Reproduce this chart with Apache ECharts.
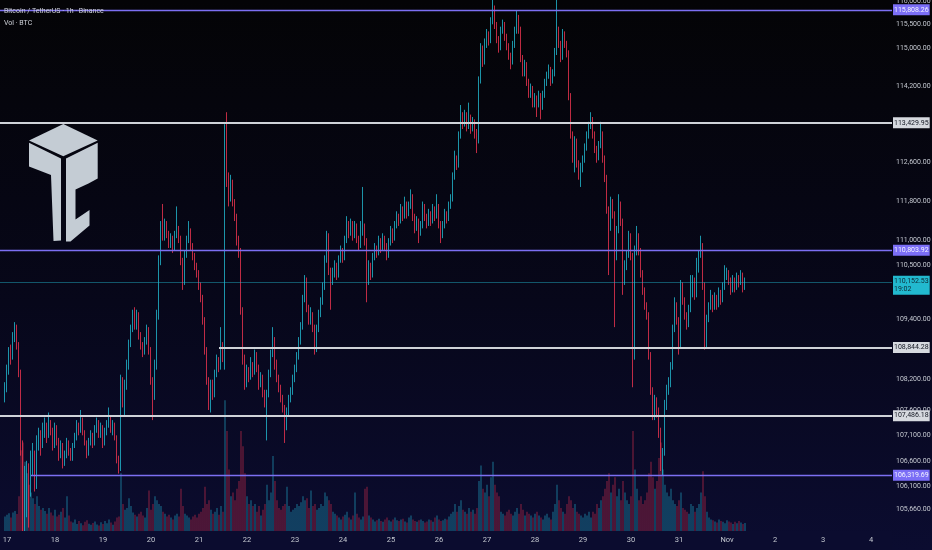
<!DOCTYPE html>
<html><head><meta charset="utf-8">
<script src="https://cdn.jsdelivr.net/npm/echarts@6/dist/echarts.min.js"></script>
<style>
html,body{margin:0;padding:0;background:#050507;}
#c{width:932px;height:550px;background:linear-gradient(180deg,#040406 0%,#07071a 55%,#0b0c30 100%);}
</style>
</head><body><div id="c"></div>
<script>
// ---- data (hourly BTC/USDT) ----
const firstOpen = 107850;
const closes = [
108050,108400,108750,108650,109050,109200,108900,108350,106900,105600,
105900,106400,106100,106550,106750,106500,106950,107150,106900,107200,
107300,107100,107350,107200,106900,107250,107000,106750,106900,106550,
106700,106950,106800,106650,106900,107050,107300,107200,107400,107150,
106950,106750,106950,107100,106950,107200,107350,107100,107250,106950,
107150,107300,107450,107200,107300,107050,106650,106500,108100,107750,
108100,108500,108900,109200,109450,109300,109500,109100,108900,108750,
108950,109200,108800,108200,107900,108500,109500,110600,111300,111100,
111350,111150,110950,111050,110850,111100,111250,111050,110600,110200,
110700,111000,111200,110900,110700,110500,110350,110100,109850,109400,
108800,108200,107800,108100,107900,108300,108600,108450,108900,108650,
113300,112300,111900,112200,111800,111500,111000,110800,109600,108600,
108150,108400,108250,108500,108350,108700,108450,108100,108250,107950,
107750,107900,108300,108700,109000,108500,108250,108050,107850,107650,
107400,107550,107800,107950,108200,108400,108650,108950,109250,109800,
110200,109650,109400,109500,109250,108800,109200,109500,109750,110050,
110600,111100,110400,110200,110350,110500,110300,110600,110800,110650,
111000,111350,111150,111350,111100,111300,111050,110900,111150,111300,
111000,110200,110500,110300,110650,110850,110750,111000,110850,111050,
110900,110700,110950,111200,111050,111300,111500,111400,111650,111500,
111750,111550,111700,111900,111500,111250,111400,111150,111300,111700,
111500,111350,111550,111400,111650,111500,111700,111350,111100,111300,
111550,111450,111700,111850,112300,112700,112550,113150,113550,113400,
113600,113350,113550,113300,113450,113200,113050,114300,115000,114700,
115100,115300,115150,115550,115850,115500,115200,115000,115350,115500,
115250,115050,114850,114700,115050,115350,115650,115400,114800,114500,
114650,114300,114050,114150,113850,113950,113800,114000,113750,114000,
114250,114400,114550,114300,114450,114900,115400,115100,114800,115300,
115100,114900,114000,113200,112700,113050,112600,112350,112500,112650,
112900,113150,113350,113500,113200,112900,112700,112950,113200,112700,
112300,111650,111250,111800,111550,110700,111200,111750,111400,110200,
110500,110700,111100,110700,108700,110800,111100,110800,110350,110000,
109700,109500,108700,108000,107500,107800,107600,107200,106600,106750,
107700,108000,108100,108450,109200,109700,109400,108900,110100,109800,
109500,109300,109600,109900,110200,109900,110400,110700,110900,110100,
108900,109400,109650,109850,109650,109850,109700,109950,109800,110050,
110300,110350,110200,110000,110200,110050,110250,110150,110300,110050,
110152.53];
const highs = [
108150,108500,108850,108900,109150,109350,109300,108950,108400,107000,
106500,106600,106550,106800,106950,106800,107100,107250,107200,107350,
107450,107350,107550,107400,107250,107350,107300,107050,107000,106950,
106800,107050,107000,106850,106950,107150,107400,107350,107600,107450,
107200,107000,107050,107200,107150,107300,107450,107400,107350,107300,
107250,107400,107650,107500,107400,107350,107100,106700,108300,108250,
108200,108600,109000,109300,109600,109650,109600,109550,109150,108950,
109050,109300,109250,108850,108250,108600,109600,110700,111400,111750,
111450,111400,111200,111150,111100,111200,111700,111300,111100,110650,
110800,111100,111400,111250,110950,110750,110550,110400,110150,109900,
109450,108850,108250,108200,108200,108400,108700,108650,109250,108950,
113400,113650,112400,112350,112250,111850,111550,111100,110850,109650,
108700,108500,108450,108650,108550,108800,108750,108500,108350,108300,
108000,108000,108400,108800,109250,109050,108600,108300,108100,107900,
107700,107650,107900,108050,108300,108500,108750,109050,109350,109900,
110300,110250,109700,109650,109550,109300,109300,109600,109850,110150,
110700,111200,111150,110450,110450,110600,110550,110700,110900,110850,
111100,111500,111400,111450,111400,111400,111350,111100,111400,112100,
111350,111050,110600,110550,110750,110950,110900,111100,111050,111150,
111100,110950,111050,111300,111250,111400,111600,111550,111750,111700,
111900,111800,111800,112050,111950,111550,111500,111450,111400,111800,
111750,111550,111650,111600,111750,111700,111950,111750,111400,111400,
111650,111600,111800,111950,112400,112850,112750,113250,113800,113650,
113700,113650,113850,113600,113550,113500,113300,114400,115100,115050,
115200,115400,115350,115650,116050,115900,115550,115250,115450,115600,
115550,115300,115100,114900,115150,115450,115800,115700,115450,114850,
114750,114700,114350,114250,114200,114050,114000,114100,114050,114100,
114350,114500,114650,114600,114550,115000,116100,115450,115150,115400,
115350,115150,114950,114050,113250,113150,113100,112650,112600,112750,
113000,113250,113450,113650,113550,113250,112950,113050,113450,113250,
112750,112350,111700,111900,111850,111600,111300,111950,111800,111450,
110600,110800,111200,111150,110750,110900,111300,111150,110850,110400,
110050,109750,109550,108750,108050,107900,107850,107650,107250,106850,
107800,108100,108250,108550,109300,109850,109750,109450,110200,110150,
109850,109550,109700,110300,110300,110250,110650,110800,111100,110950,
110150,109500,109750,110000,109900,109950,109900,110050,110000,110150,
110500,110450,110400,110250,110300,110250,110350,110300,110400,110350,
110250];
const lows = [
107750,107950,108300,108500,108600,108950,108800,108250,106700,104300,
104900,105500,105300,105900,106300,106000,106050,106800,106700,106850,
107050,106950,107050,107100,106800,106850,106900,106600,106650,106450,
106500,106650,106700,106600,106600,106850,107000,107100,107150,107100,
106900,106650,106700,106900,106850,106900,107150,107050,107050,106850,
106900,107100,107250,107150,107100,107000,106550,106350,106400,107650,
107500,108000,108400,108850,109150,109200,109200,109000,108800,108650,
108700,108900,108700,108100,107400,107800,108400,109400,110500,111000,
111000,111050,110850,110850,110750,110800,111050,110950,110500,110000,
110100,110650,110950,110800,110600,110400,110250,110000,109750,109300,
108700,108100,107600,107550,107800,107850,108250,108350,108400,108550,
108400,112100,111700,111800,111700,111400,110900,110650,109500,108500,
108000,108050,108150,108200,108250,108300,108350,108000,108050,107850,
107650,107000,107850,108250,108650,108400,108150,107950,107750,107550,
106950,107200,107500,107750,107900,108150,108350,108600,108900,109200,
109750,109550,109300,109300,109150,108700,108750,109150,109450,109700,
110000,110550,110300,109600,110100,110250,110200,110250,110550,110550,
110600,110950,111050,111100,111000,111050,110950,110800,110850,111100,
110900,109750,110100,110200,110250,110600,110650,110700,110750,110800,
110800,110600,110650,110900,110950,111000,111250,111300,111350,111400,
111450,111450,111500,111650,111400,111150,111200,110950,111100,111250,
111400,111250,111300,111300,111350,111400,111450,111250,110950,111050,
111250,111350,111400,111650,111800,112250,112450,112500,113100,113300,
113350,113250,113300,113200,113250,113100,112800,113000,114250,114600,
114650,115000,115050,115100,115500,115400,115100,114900,114950,115300,
115150,114950,114750,114550,114650,115000,115300,115300,114700,114400,
114400,114200,113950,113950,113750,113750,113550,113750,113500,113700,
113950,114200,114350,114200,114250,114400,114850,115000,114700,114750,
115000,114800,113900,113100,112600,112400,112500,112250,112100,112400,
112600,112850,113100,113300,113100,112800,112600,112650,112900,112600,
112200,111550,110300,111200,111450,109250,110600,111150,111300,109900,
110100,110400,110650,110600,108050,108600,110700,110700,110250,109900,
109600,109400,108600,107900,107400,107400,107450,107050,106400,106320,
106700,107600,107900,108050,108400,109150,109300,108700,108850,109700,
109400,109200,109250,109550,109850,109800,109850,110350,110650,110000,
108800,108850,109350,109600,109550,109600,109600,109650,109700,109750,
110000,110200,110100,109900,109950,109950,110000,110050,110100,109950,
110000];
const volumes = [
380,420,460,350,480,520,440,900,2100,2300,
1800,1500,1200,1000,850,700,900,650,550,600,
520,450,600,480,400,550,380,420,500,600,
350,900,400,250,220,300,180,260,200,150,
240,280,190,160,210,250,170,140,230,180,
260,200,300,220,160,250,350,380,1500,700,
550,600,850,650,480,420,380,450,500,400,
350,600,1050,550,700,900,800,700,650,500,
450,380,420,350,300,400,450,380,1100,650,
450,400,350,300,380,420,350,450,500,600,
1150,700,800,550,450,500,600,420,650,500,
3400,2600,1600,900,1000,800,1100,1300,2600,2200,
1500,900,700,800,650,700,500,650,400,550,
700,1200,800,1000,1950,1300,800,600,550,650,
700,1150,650,500,550,600,700,650,750,900,
800,850,600,1050,650,700,550,600,700,650,
1000,900,800,700,500,450,400,350,300,380,
420,500,350,300,400,1000,450,350,300,380,
1100,1150,400,350,300,250,280,320,260,240,
300,350,280,250,300,350,280,260,300,320,
250,220,350,400,300,260,240,280,300,260,
220,250,300,280,240,350,400,300,260,280,
320,300,380,450,500,700,500,650,800,550,
500,450,600,500,550,450,600,1300,1700,1100,
1000,1200,900,1400,1800,1200,1000,900,500,450,
400,500,550,450,400,500,600,450,700,550,
400,500,450,400,350,450,500,400,350,300,
400,450,350,300,500,700,1200,800,600,500,
450,700,900,800,600,700,500,450,400,350,
450,400,500,350,500,450,700,600,800,900,
1100,1300,1500,1000,1200,1400,900,1100,800,1300,
1000,800,700,900,2600,1600,1100,800,900,700,
800,1000,1500,1800,1400,1100,1300,1900,2300,1600,
1200,1000,900,1100,800,700,650,800,1000,600,
550,500,450,700,650,500,600,700,1000,1550,
900,500,350,300,280,250,220,300,260,240,
200,280,250,220,180,240,200,260,220,180,
208];
const dayTicks = ['17','18','19','20','21','22','23','24','25','26','27','28','29','30','31','Nov','2','3','4'];
const priceTicks = [116000,115500,115000,114200,112600,111800,111000,110500,109400,108200,107600,107100,106600,106100,105660];
const levelPrices = [115808.26,113429.95,110803.92,108844.28,107486.18,106319.69];
const levelKinds  = ['purple','grey','purple','grey','grey','purple'];
const levelStarts = [0,0,0,107,0,13];
const lastPrice = 110152.53;
const countdown = '19:02';
const lastVolume = 208;
const titleText = 'Bitcoin / TetherUS · 1h · Binance';
const volText = 'Vol · BTC';

// ---- chart ----
const N_SLOTS = 440;             // hourly slots, 2 px each
const GRID_LEFT = 4, GRID_W = 880;
const LINE_END_X = 892;          // price lines run up to the price scale
const startMs = Date.UTC(2025, 9, 16, 23);
const slots = [];
for (let i = 0; i < N_SLOTS; i++) {
  const d = new Date(startMs + i * 3600000);
  slots.push((d.getUTCMonth()+1) + '-' + d.getUTCDate() + ' ' + d.getUTCHours() + ':00');
}
const UP = '#22b9cf', DOWN = '#ef3550';
const FONT = 'Roboto,"Liberation Sans",sans-serif';
const fmt = v => Number(v).toLocaleString('en-US', {minimumFractionDigits: 2, maximumFractionDigits: 2});

const candles = closes.map((c, i) => {
  const o = i ? closes[i-1] : firstOpen;
  return [o, c, Math.min(lows[i], o, c), Math.max(highs[i], o, c)];
});
const volData = volumes.map((v, i) => ({
  value: v,
  itemStyle: {color: candles[i][1] >= candles[i][0] ? 'rgba(34,170,200,0.55)' : 'rgba(230,50,80,0.5)'}
}));

const styles = {
  purple: {line: '#7c6ff2', width: 1.3, bg: '#7b6ef6', text: '#f4f4ff'},
  grey:   {line: '#cfd2d8', width: 1.8, bg: '#d6d9df', text: '#131722'}
};
function lbl(text, st) {
  return {show: true, position: 'end', distance: 1, formatter: text, color: st.text,
          backgroundColor: st.bg, padding: [2, 1, 1, 1], fontSize: 7, fontFamily: FONT, lineHeight: 8};
}
function hline(p, startIdx, lineStyle, label) {
  return [{coord: [startIdx, p], x: startIdx ? undefined : 0, lineStyle, label},
          {coord: [N_SLOTS - 1, p], x: LINE_END_X}];
}
const lineData = levelPrices.map((p, k) => {
  const st = styles[levelKinds[k]];
  return hline(p, levelStarts[k], {color: st.line, width: st.width, type: 'solid'}, lbl(fmt(p), st));
});
lineData.push(hline(lastPrice, 0, {color: 'rgba(34,185,207,0.45)', width: 1, type: 'solid'},
  Object.assign(lbl(fmt(lastPrice) + '\n' + countdown, {bg: UP, text: '#0d2b35'}), {offset: [0, 3]})));

const chart = echarts.init(document.getElementById('c'), null, {renderer: 'canvas'});
chart.setOption({
  backgroundColor: 'transparent',
  animation: false,
  grid: {left: GRID_LEFT, width: GRID_W, top: 0, bottom: 19, containLabel: false, outerBoundsMode: 'none'},
  xAxis: {
    type: 'category', data: slots, boundaryGap: true, z: 60,
    axisLine: {show: false}, axisTick: {show: false}, splitLine: {show: false},
    axisLabel: {
      interval: i => i >= 1 && (i - 1) % 24 === 0,
      formatter: (v, i) => dayTicks[(i - 1) / 24] || '',
      color: '#c4c8d0', fontSize: 7.5, fontFamily: FONT, margin: 5
    }
  },
  yAxis: [{
    type: 'log', logBase: 10, position: 'right', min: 105234, max: 116017,
    axisLine: {show: false}, axisTick: {show: false}, splitLine: {show: false},
    axisLabel: {customValues: priceTicks, formatter: v => fmt(Math.round(v)),
                color: '#c4c8d0', fontSize: 7, fontFamily: FONT, margin: 12}
  }, {
    type: 'value', min: 0, max: 13800, show: false
  }],
  graphic: [
    {type: 'rect', z: 50, silent: true, shape: {x: 0, y: 531, width: 892, height: 19}, style: {fill: '#0b0c2f'}},
    {type: 'polygon', z: 1, shape: {points: [[29,140.5],[63.3,124],[97.7,140.5],[63.3,156.2]]}, style: {fill: '#c4ccd4'}},
    {type: 'polygon', z: 1, shape: {points: [[29,142.8],[61,158.6],[61,240.5],[53.5,241],[51,175],[29,166.5]]}, style: {fill: '#c4ccd4'}},
    {type: 'polygon', z: 1, shape: {points: [[66,158.6],[97.7,142.8],[97.7,178.5],[88.5,183.5],[75.5,189.5],[75.5,219.5],[89.5,210],[89.5,225.5],[70.5,241.5],[66,241.5]]}, style: {fill: '#c4ccd4'}},
    {type: 'text', z: 100, left: 4, top: 8, style: {text: titleText, fill: '#d0d3da', font: '7px ' + FONT}},
    {type: 'text', z: 100, left: 4, top: 20, style: {text: volText, fill: '#d0d3da', font: '7px ' + FONT}}
  ],
  series: [{
    type: 'candlestick', data: candles, clip: true, barWidth: 1, z: 3,
    itemStyle: {color: UP, color0: DOWN, borderColor: UP, borderColor0: DOWN, borderWidth: 0.8},
    markLine: {silent: true, symbol: 'none', animation: false, data: lineData}
  }, {
    type: 'bar', xAxisIndex: 0, yAxisIndex: 1, data: volData, barWidth: 1.2, z: 1,
    markLine: {silent: true, symbol: 'none', animation: false,
      data: [hline(lastVolume, 0, {opacity: 0}, lbl(String(lastVolume), {bg: UP, text: '#0d2b35'}))]}
  }]
});
</script>
</body></html>
